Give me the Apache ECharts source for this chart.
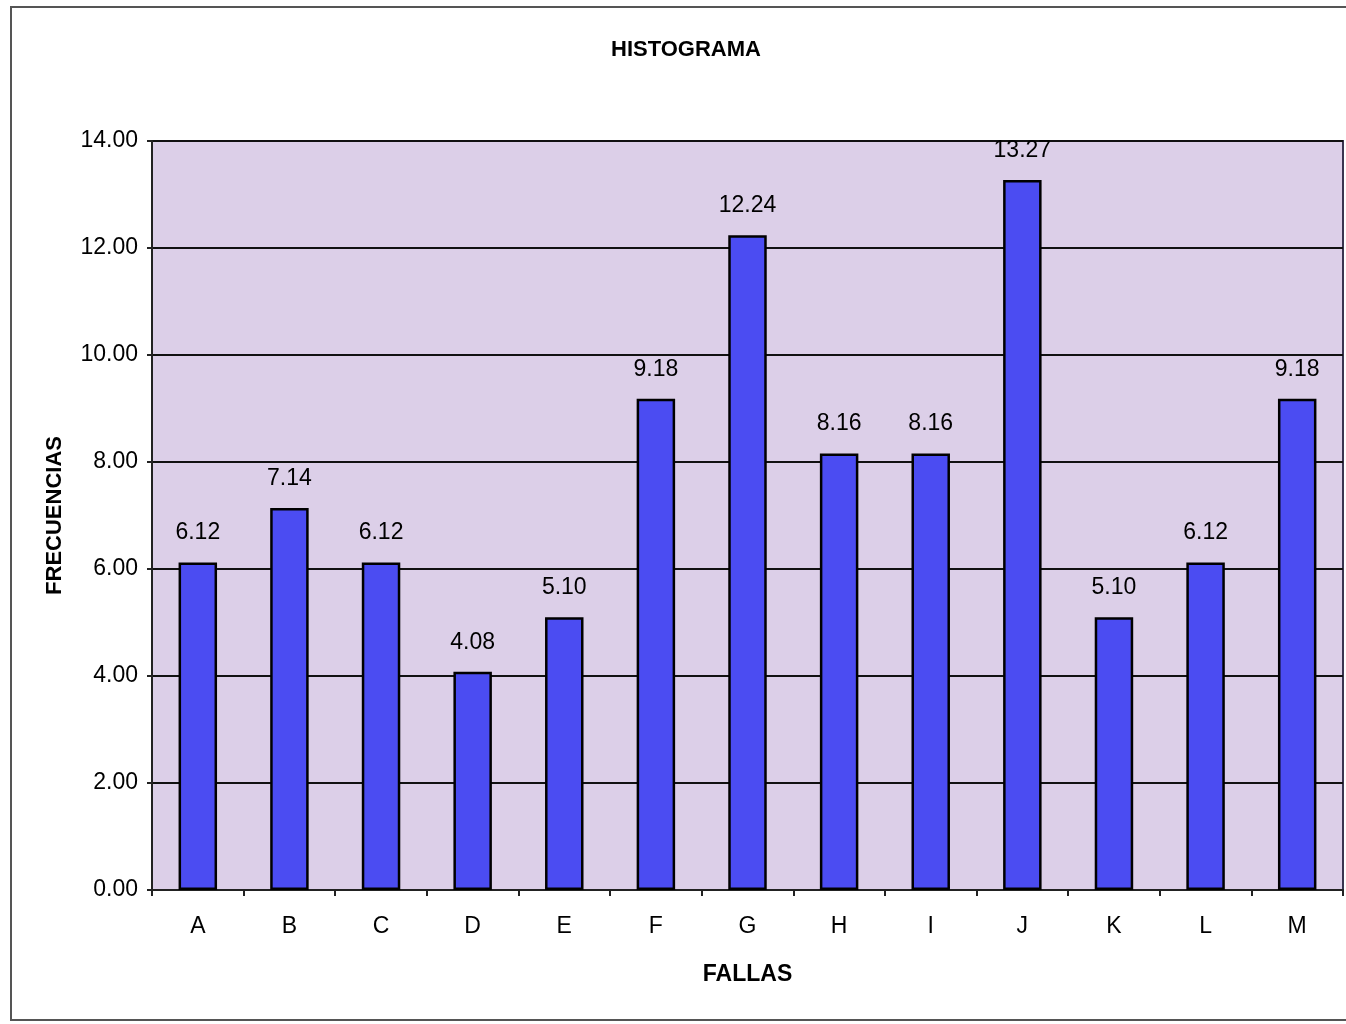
<!DOCTYPE html>
<html>
<head>
<meta charset="utf-8">
<title>HISTOGRAMA</title>
<script src="https://cdn.jsdelivr.net/npm/echarts@6/dist/echarts.min.js"></script>
<style>
  html, body { margin: 0; padding: 0; background: #ffffff; }
  #chart { width: 1346px; height: 1024px; }
</style>
</head>
<body>
<div id="chart"></div>
<script>
// Fallas y su frecuencia relativa (%)
const fallas = ['A', 'B', 'C', 'D', 'E', 'F', 'G', 'H', 'I', 'J', 'K', 'L', 'M'];
const frecuencias = [6.12, 7.14, 6.12, 4.08, 5.10, 9.18, 12.24, 8.16, 8.16, 13.27, 5.10, 6.12, 9.18];
const yMin = 0;
const yMax = 14;
const yStep = 2;

const chart = echarts.init(document.getElementById('chart'), null, { renderer: 'canvas' });

const font = 'Arial, "Liberation Sans", sans-serif';

chart.setOption({
  backgroundColor: '#ffffff',
  animation: false,
  title: {
    text: 'HISTOGRAMA',
    left: 606,
    top: 34,
    textStyle: { fontFamily: font, fontSize: 22, fontWeight: 'bold', color: '#000' }
  },
  graphic: [
    {
      type: 'rect',
      shape: { x: 11, y: 7, width: 1360, height: 1013 },
      style: { fill: 'none', stroke: '#555', lineWidth: 2 },
      silent: true,
      z: -1
    }
  ],
  grid: {
    left: 152,
    right: 3,
    top: 141,
    bottom: 134,
    show: true,
    backgroundColor: '#dccfe8',
    borderColor: '#3a3550',
    borderWidth: 2
  },
  xAxis: {
    type: 'category',
    data: fallas,
    name: 'FALLAS',
    nameLocation: 'middle',
    nameGap: 73,
    nameTextStyle: { fontFamily: font, fontSize: 23, fontWeight: 'bold', color: '#000' },
    axisLine: { show: true, lineStyle: { color: '#222', width: 2 } },
    axisTick: { show: true, alignWithLabel: false, length: 6, lineStyle: { color: '#222', width: 2 } },
    axisLabel: { fontFamily: font, fontSize: 23, color: '#000', margin: 25 },
    splitLine: { show: false }
  },
  yAxis: {
    type: 'value',
    min: yMin,
    max: yMax,
    interval: yStep,
    name: 'FRECUENCIAS',
    nameLocation: 'middle',
    nameGap: 86,
    nameRotate: 90,
    nameTextStyle: { fontFamily: font, fontSize: 22, fontWeight: 'bold', color: '#000' },
    axisLine: { show: true, lineStyle: { color: '#222', width: 2 } },
    axisTick: { show: true, length: 5, lineStyle: { color: '#222', width: 2 } },
    axisLabel: {
      fontFamily: font,
      fontSize: 23,
      color: '#000',
      margin: 14,
      formatter: v => v.toFixed(2)
    },
    splitLine: { show: true, lineStyle: { color: '#111', width: 2 } }
  },
  series: [
    {
      type: 'bar',
      data: frecuencias,
      barCategoryGap: '58%',
      itemStyle: { color: '#4b4cf2', borderColor: '#000', borderWidth: 2.5 },
      label: {
        show: true,
        position: 'top',
        distance: 18,
        fontFamily: font,
        fontSize: 23,
        color: '#000',
        formatter: p => p.value.toFixed(2)
      }
    }
  ]
});
</script>
</body>
</html>
